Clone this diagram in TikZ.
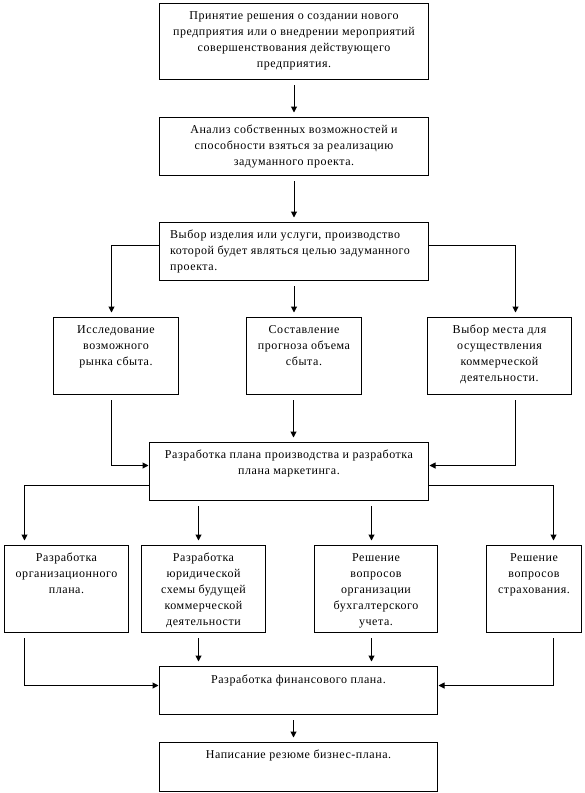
\documentclass[tikz,border=0pt]{standalone}
\usepackage{fontspec}
\setmainfont{Liberation Serif}[LetterSpace=4.5]
\usetikzlibrary{arrows.meta}
\tikzset{
  box/.style={draw, line width=1pt, inner sep=0pt, anchor=north west},
  txt/.style={inner sep=0pt, anchor=north, align=center, font=\fontsize{12}{16}\selectfont},
  txtl/.style={inner sep=0pt, anchor=north west, align=left, font=\fontsize{12}{16}\selectfont},
  arr/.style={line width=1pt, -{Triangle[length=6pt,width=6pt]}, shorten <=5pt, shorten >=4.5pt},
  arrs/.style={line width=1pt, -{Triangle[length=6pt,width=6pt]}, shorten <=5pt, shorten >=0.5pt}
}
\begin{document}
\begin{tikzpicture}[x=1pt,y=-1pt]
\useasboundingbox (0,0) rectangle (585,793);
% boxes
\node[box, minimum width=269pt, minimum height=76pt] (b1) at (159,3) {};
\node[box, minimum width=269pt, minimum height=58pt] (b2) at (159,117) {};
\node[box, minimum width=269pt, minimum height=58pt] (b3) at (159,222) {};
\node[box, minimum width=125pt, minimum height=77pt] (b4) at (53,317) {};
\node[box, minimum width=115pt, minimum height=77pt] (b5) at (246,317) {};
\node[box, minimum width=144pt, minimum height=77pt] (b6) at (427,317) {};
\node[box, minimum width=279pt, minimum height=58pt] (b7) at (149,442) {};
\node[box, minimum width=124pt, minimum height=87pt] (b8) at (4,545) {};
\node[box, minimum width=124pt, minimum height=87pt] (b9) at (141,545) {};
\node[box, minimum width=123pt, minimum height=87pt] (b10) at (314,545) {};
\node[box, minimum width=95pt, minimum height=87pt] (b11) at (486,545) {};
\node[box, minimum width=278pt, minimum height=48pt] (b12) at (159,666) {};
\node[box, minimum width=278pt, minimum height=49pt] (b13) at (159,742) {};
% texts
\node[txt] (t1) at ([yshift=-8pt]b1.north) {Принятие решения о создании нового\\предприятия или о внедрении мероприятий\\совершенствования действующего\\предприятия.};
\node[txt] (t2) at ([yshift=-8pt]b2.north) {Анализ собственных возможностей и\\способности взяться за реализацию\\задуманного проекта.};
\node[txtl] (t3) at ([xshift=11pt,yshift=-8pt]b3.north west) {Выбор изделия или услуги, производство\\которой будет являться целью задуманного\\проекта.};
\node[txt] (t4) at ([yshift=-8pt]b4.north) {Исследование\\возможного\\рынка сбыта.};
\node[txt] (t5) at ([yshift=-8pt]b5.north) {Составление\\прогноза объема\\сбыта.};
\node[txt] (t6) at ([yshift=-8pt]b6.north) {Выбор места для\\осуществления\\коммерческой\\деятельности.};
\node[txt] (t7) at ([yshift=-8pt]b7.north) {Разработка плана производства и разработка\\плана маркетинга.};
\node[txt] (t8) at ([yshift=-8pt]b8.north) {Разработка\\организационного\\плана.};
\node[txt] (t9) at ([yshift=-8pt]b9.north) {Разработка\\юридической\\схемы будущей\\коммерческой\\деятельности};
\node[txt] (t10) at ([yshift=-8pt]b10.north) {Решение\\вопросов\\организации\\бухгалтерского\\учета.};
\node[txt] (t11) at ([yshift=-8pt]b11.north) {Решение\\вопросов\\страхования.};
\node[txt] (t12) at ([yshift=-9pt]b12.north) {Разработка финансового плана.};
\node[txt] (t13) at ([yshift=-8pt]b13.north) {Написание резюме бизнес-плана.};
% connectors
\draw[arr] (b1.south) -- (b2.north);
\draw[arr] (b2.south) -- (b2.south |- b3.north);
\draw[arr, shorten <=0pt] ([yshift=6pt]b3.west) -| ([xshift=-4.5pt]b4.north);
\draw[arr, shorten <=0pt] ([yshift=6pt]b3.east) -| ([xshift=16pt]b6.north);
\draw[arr] (b3.south) -- (b3.south |- b5.north);
\draw[arrs] ([xshift=-4.5pt]b4.south) |- ([yshift=6pt]b7.west);
\draw[arrs] ([xshift=16pt]b6.south) |- ([yshift=6pt]b7.east);
\draw[arr] ([xshift=-10.5pt]b5.south) -- ([xshift=-10.5pt]b5.south |- b7.north);
\draw[arr, shorten <=0pt] ([yshift=-14pt]b7.west) -| ([xshift=-42pt]b8.north);
\draw[arr, shorten <=0pt] ([yshift=-14pt]b7.east) -| ([xshift=19.5pt]b11.north);
\draw[arr] ([xshift=-5pt]b9.north |- b7.south) -- ([xshift=-5pt]b9.north);
\draw[arr] ([xshift=-4.5pt]b10.north |- b7.south) -- ([xshift=-4.5pt]b10.north);
\draw[arrs] ([xshift=-42pt]b8.south) |- ([yshift=5pt]b12.west);
\draw[arr] ([xshift=-5pt]b9.south) -- ([xshift=-5pt]b9.south |- b12.north);
\draw[arr] ([xshift=-4.5pt]b10.south) -- ([xshift=-4.5pt]b10.south |- b12.north);
\draw[arrs] ([xshift=19.5pt]b11.south) |- ([yshift=5pt]b12.east);
\draw[arr] ([xshift=-5pt]b12.south) -- ([xshift=-5pt]b12.south |- b13.north);
\end{tikzpicture}
\end{document}
